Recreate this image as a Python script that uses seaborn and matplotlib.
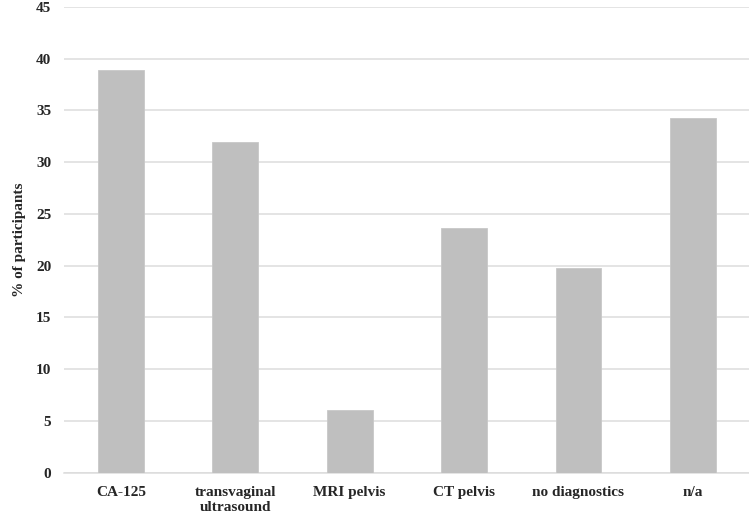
import pandas as pd
import matplotlib.pyplot as plt
import seaborn as sns

# valores
categorias = ["CA-125", "transvaginal\nultrasound", "MRI pelvis", "CT pelvis", "no diagnostics", "n/a"]
porcentajes = [38.9, 32.0, 6.1, 23.6, 19.8, 34.3]
yticks = [0, 5, 10, 15, 20, 25, 30, 35, 40, 45]

df = pd.DataFrame({"categoria": categorias, "porcentaje": porcentajes})

sns.set_style("white")
plt.rcParams['font.family'] = ['Liberation Serif', 'DejaVu Serif']
plt.rcParams['font.weight'] = 'bold'

fig = plt.figure(figsize=(7.49, 5.19), dpi=100)
ax = fig.add_axes([0.0852, 0.0892, 0.9160, 0.8973])

sns.barplot(data=df, x="categoria", y="porcentaje", color="#BFBFBF",
            saturation=1, width=0.4, ax=ax, zorder=3, edgecolor="#C8C8C8", linewidth=0.6)

ax.set_ylim(0, 45)
ax.set_yticks(yticks)
ax.yaxis.grid(True, color="#DCDCDC", linewidth=1.1, zorder=0)
ax.set_axisbelow(True)
for s in ["top", "right", "left"]:
    ax.spines[s].set_visible(False)
ax.spines["bottom"].set_color("#DCDCDC")
ax.spines["bottom"].set_linewidth(1.1)
ax.tick_params(axis="y", length=0, pad=9, labelsize=11)
ax.tick_params(axis="x", length=0, pad=9.5, labelsize=11)
for t in ax.get_xticklabels() + ax.get_yticklabels():
    t.set_fontweight("bold")

ax.set_xlabel("")
ax.set_ylabel("% of participants", fontsize=11, fontweight="bold", labelpad=7)

fig.savefig("out.png", dpi=100)
